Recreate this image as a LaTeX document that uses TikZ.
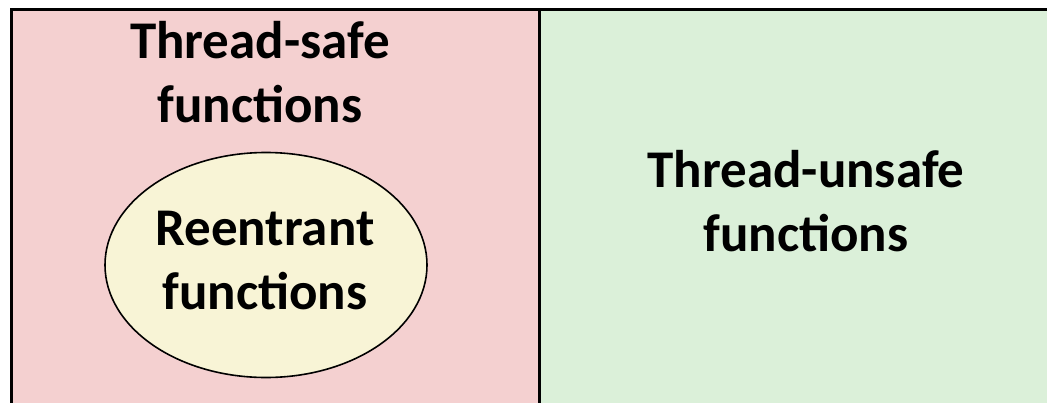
\documentclass[tikz,border=0pt]{standalone}
\usepackage{fontspec}
\setmainfont{Carlito}
\usepackage{tikz}
\usetikzlibrary{positioning, shapes.geometric}

\definecolor{safepink}{RGB}{244,208,208}
\definecolor{unsafegreen}{RGB}{219,240,217}
\definecolor{reentyellow}{RGB}{248,244,214}

\begin{document}
\begin{tikzpicture}[
  x=1pt, y=-1pt,
  panel/.style = {draw, line width=3pt, rectangle, anchor=north west, inner sep=0pt},
  blob/.style  = {draw, line width=1.6pt, ellipse, inner sep=0pt, fill=reentyellow},
  label/.style = {align=center, inner sep=0pt, font=\bfseries\fontsize{53}{64}\selectfont},
]
  \useasboundingbox (0,0) rectangle (1047,402);
  \clip (0,0) rectangle (1047,402);

  % Two halves of the split
  \node[panel, fill=safepink,    minimum width=528pt, minimum height=430pt] (safe)   at (10,8)  {};
  \node[panel, fill=unsafegreen, minimum width=540pt, minimum height=430pt] (unsafe) at (538,8) {};

  % Reentrant subset inside the safe half
  \node[blob, minimum width=322pt, minimum height=225pt] (reent) at (266,265) {};

  % Labels
  \node[label] (safetxt)   at (260,72)  {Thread-safe\\functions};
  \node[label] (unsafetxt) at (806,201) {Thread-unsafe\\functions};
  \node[label] (reenttxt)  at (265,261) {Reentrant\\functions};
\end{tikzpicture}
\end{document}
